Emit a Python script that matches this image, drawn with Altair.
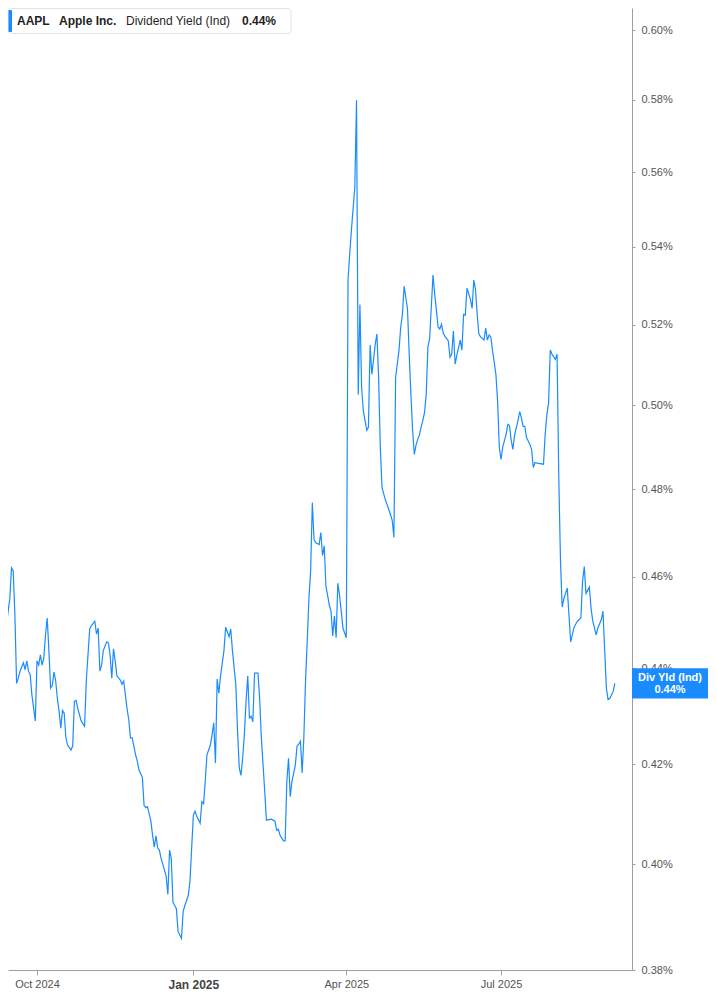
import altair as alt
import pandas as pd

# ---------------- data ----------------
dates = [
    "2024-09-09", "2024-09-10", "2024-09-11", "2024-09-12", "2024-09-13", "2024-09-15", "2024-09-16", "2024-09-17",
    "2024-09-18", "2024-09-19", "2024-09-20", "2024-09-21", "2024-09-23", "2024-09-24", "2024-09-25", "2024-09-26",
    "2024-09-27", "2024-09-28", "2024-09-30", "2024-10-01", "2024-10-02", "2024-10-03", "2024-10-04", "2024-10-05",
    "2024-10-06", "2024-10-07", "2024-10-08", "2024-10-09", "2024-10-10", "2024-10-11", "2024-10-12", "2024-10-13",
    "2024-10-14", "2024-10-15", "2024-10-16", "2024-10-17", "2024-10-18", "2024-10-19", "2024-10-21", "2024-10-22",
    "2024-10-23", "2024-10-24", "2024-10-25", "2024-10-27", "2024-10-29", "2024-10-30", "2024-11-01", "2024-11-02",
    "2024-11-04", "2024-11-05", "2024-11-06", "2024-11-07", "2024-11-08", "2024-11-09", "2024-11-11", "2024-11-12",
    "2024-11-13", "2024-11-14", "2024-11-15", "2024-11-16", "2024-11-17", "2024-11-19", "2024-11-20", "2024-11-21",
    "2024-11-22", "2024-11-23", "2024-11-24", "2024-11-25", "2024-11-26", "2024-11-28", "2024-11-29", "2024-11-30",
    "2024-12-02", "2024-12-03", "2024-12-04", "2024-12-05", "2024-12-07", "2024-12-08", "2024-12-09", "2024-12-10",
    "2024-12-11", "2024-12-12", "2024-12-13", "2024-12-15", "2024-12-16", "2024-12-17", "2024-12-18", "2024-12-19",
    "2024-12-20", "2024-12-21", "2024-12-22", "2024-12-23", "2024-12-24", "2024-12-25", "2024-12-26", "2024-12-27",
    "2024-12-29", "2024-12-30", "2024-12-31", "2025-01-01", "2025-01-02", "2025-01-03", "2025-01-05", "2025-01-06",
    "2025-01-07", "2025-01-08", "2025-01-09", "2025-01-11", "2025-01-12", "2025-01-13", "2025-01-14", "2025-01-15",
    "2025-01-16", "2025-01-17", "2025-01-19", "2025-01-20", "2025-01-22", "2025-01-23", "2025-01-24", "2025-01-26",
    "2025-01-27", "2025-01-28", "2025-01-29", "2025-01-30", "2025-01-31", "2025-02-01", "2025-02-02", "2025-02-03",
    "2025-02-04", "2025-02-05", "2025-02-06", "2025-02-08", "2025-02-09", "2025-02-10", "2025-02-12", "2025-02-13",
    "2025-02-16", "2025-02-18", "2025-02-19", "2025-02-20", "2025-02-21", "2025-02-23", "2025-02-24", "2025-02-25",
    "2025-02-26", "2025-02-27", "2025-02-28", "2025-03-02", "2025-03-03", "2025-03-04", "2025-03-05", "2025-03-06",
    "2025-03-07", "2025-03-08", "2025-03-09", "2025-03-10", "2025-03-11", "2025-03-12", "2025-03-13", "2025-03-14",
    "2025-03-16", "2025-03-17", "2025-03-18", "2025-03-19", "2025-03-20", "2025-03-21", "2025-03-22", "2025-03-23",
    "2025-03-24", "2025-03-25", "2025-03-26", "2025-03-27", "2025-03-28", "2025-03-29", "2025-03-30", "2025-04-01",
    "2025-04-02", "2025-04-03", "2025-04-04", "2025-04-06", "2025-04-07", "2025-04-08", "2025-04-09", "2025-04-10",
    "2025-04-11", "2025-04-13", "2025-04-14", "2025-04-15", "2025-04-16", "2025-04-17", "2025-04-18", "2025-04-19",
    "2025-04-20", "2025-04-21", "2025-04-22", "2025-04-24", "2025-04-25", "2025-04-26", "2025-04-28", "2025-04-29",
    "2025-04-30", "2025-05-02", "2025-05-03", "2025-05-04", "2025-05-05", "2025-05-06", "2025-05-07", "2025-05-08",
    "2025-05-09", "2025-05-10", "2025-05-11", "2025-05-12", "2025-05-13", "2025-05-14", "2025-05-15", "2025-05-16",
    "2025-05-17", "2025-05-18", "2025-05-19", "2025-05-20", "2025-05-22", "2025-05-23", "2025-05-24", "2025-05-25",
    "2025-05-26", "2025-05-27", "2025-05-28", "2025-05-29", "2025-05-31", "2025-06-01", "2025-06-02", "2025-06-03",
    "2025-06-04", "2025-06-05", "2025-06-07", "2025-06-08", "2025-06-09", "2025-06-10", "2025-06-11", "2025-06-13",
    "2025-06-14", "2025-06-15", "2025-06-16", "2025-06-17", "2025-06-18", "2025-06-19", "2025-06-21", "2025-06-22",
    "2025-06-23", "2025-06-24", "2025-06-25", "2025-06-26", "2025-06-28", "2025-06-29", "2025-06-30", "2025-07-01",
    "2025-07-02", "2025-07-04", "2025-07-05", "2025-07-06", "2025-07-07", "2025-07-08", "2025-07-09", "2025-07-11",
    "2025-07-12", "2025-07-13", "2025-07-14", "2025-07-15", "2025-07-16", "2025-07-18", "2025-07-19", "2025-07-20",
    "2025-07-21", "2025-07-23", "2025-07-26", "2025-07-27", "2025-07-28", "2025-07-29", "2025-07-30", "2025-07-31",
    "2025-08-02", "2025-08-03", "2025-08-04", "2025-08-05", "2025-08-06", "2025-08-07", "2025-08-09", "2025-08-10",
    "2025-08-11", "2025-08-13", "2025-08-14", "2025-08-15", "2025-08-17", "2025-08-18", "2025-08-19", "2025-08-20",
    "2025-08-21", "2025-08-22", "2025-08-23", "2025-08-24", "2025-08-26", "2025-08-27", "2025-08-29", "2025-08-30",
    "2025-09-01", "2025-09-02", "2025-09-03", "2025-09-05", "2025-09-06",
]

div_yield = [
    0.4526, 0.4539, 0.4492, 0.4487, 0.4494, 0.4552, 0.4620, 0.4614,
    0.4515, 0.4368, 0.4379, 0.4394, 0.4412, 0.4397, 0.4416, 0.4394,
    0.4386, 0.4343, 0.4289, 0.4416, 0.4407, 0.4429, 0.4407, 0.4422,
    0.4472, 0.4509, 0.4438, 0.4358, 0.4364, 0.4392, 0.4373, 0.4336,
    0.4309, 0.4274, 0.4311, 0.4305, 0.4254, 0.4239, 0.4229, 0.4237,
    0.4330, 0.4332, 0.4315, 0.4289, 0.4278, 0.4373, 0.4485, 0.4492,
    0.4502, 0.4474, 0.4487, 0.4394, 0.4407, 0.4438, 0.4457, 0.4455,
    0.4429, 0.4379, 0.4442, 0.4416, 0.4384, 0.4375, 0.4366, 0.4373,
    0.4343, 0.4315, 0.4291, 0.4254, 0.4254, 0.4219, 0.4206, 0.4188,
    0.4173, 0.4116, 0.4112, 0.4114, 0.4085, 0.4057, 0.4034, 0.4056,
    0.4032, 0.4028, 0.4012, 0.3989, 0.3977, 0.3942, 0.4028, 0.4012,
    0.3927, 0.3921, 0.3915, 0.3872, 0.3865, 0.3859, 0.3910, 0.3921,
    0.3940, 0.3967, 0.4032, 0.4097, 0.4105, 0.4095, 0.4081, 0.4124,
    0.4120, 0.4165, 0.4219, 0.4239, 0.4260, 0.4285, 0.4202, 0.4377,
    0.4347, 0.4384, 0.4438, 0.4489, 0.4468, 0.4485, 0.4438, 0.4364,
    0.4268, 0.4192, 0.4177, 0.4212, 0.4260, 0.4330, 0.4384, 0.4295,
    0.4299, 0.4287, 0.4390, 0.4390, 0.4336, 0.4254, 0.4144, 0.4087,
    0.4089, 0.4085, 0.4067, 0.4069, 0.4057, 0.4046, 0.4046, 0.4165,
    0.4212, 0.4134, 0.4165, 0.4198, 0.4237, 0.4241, 0.4247, 0.4182,
    0.4254, 0.4373, 0.4459, 0.4552, 0.4614, 0.4769, 0.4684, 0.4677,
    0.4673, 0.4700, 0.4648, 0.4670, 0.4579, 0.4559, 0.4537, 0.4524,
    0.4470, 0.4513, 0.4466, 0.4586, 0.4559, 0.4524, 0.4487, 0.4466,
    0.5314, 0.5382, 0.5445, 0.5559, 0.5799, 0.5026, 0.5251, 0.5043,
    0.4987, 0.4940, 0.4947, 0.5149, 0.5076, 0.5111, 0.5151, 0.5176,
    0.5068, 0.4899, 0.4804, 0.4775, 0.4764, 0.4753, 0.4728, 0.4689,
    0.5068, 0.5136, 0.5194, 0.5226, 0.5298, 0.5269, 0.5239, 0.5126,
    0.5026, 0.4940, 0.4882, 0.4904, 0.4918, 0.4928, 0.4947, 0.4963,
    0.4982, 0.5026, 0.5144, 0.5164, 0.5327, 0.5277, 0.5236, 0.5194,
    0.5189, 0.5201, 0.5179, 0.5171, 0.5159, 0.5118, 0.5126, 0.5184,
    0.5101, 0.5123, 0.5161, 0.5136, 0.5226, 0.5224, 0.5293, 0.5264,
    0.5241, 0.5314, 0.5290, 0.5226, 0.5176, 0.5169, 0.5161, 0.5191,
    0.5161, 0.5174, 0.5169, 0.5136, 0.5076, 0.5011, 0.4899, 0.4870,
    0.4899, 0.4930, 0.4954, 0.4951, 0.4916, 0.4894, 0.4928, 0.4963,
    0.4985, 0.4970, 0.4949, 0.4949, 0.4923, 0.4906, 0.4894, 0.4851,
    0.4863, 0.4861, 0.4859, 0.4930, 0.4978, 0.5006, 0.5136, 0.5126,
    0.5113, 0.5126, 0.4828, 0.4636, 0.4533, 0.4552, 0.4575, 0.4515,
    0.4457, 0.4489, 0.4496, 0.4502, 0.4509, 0.4591, 0.4623, 0.4563,
    0.4570, 0.4577, 0.4530, 0.4502, 0.4472, 0.4487, 0.4505, 0.4524,
    0.4358, 0.4334, 0.4336, 0.4351, 0.4368,
]

y_ticks = [0.38, 0.40, 0.42, 0.44, 0.46, 0.48, 0.50, 0.52, 0.54, 0.56, 0.58, 0.60]
header_texts = ["AAPL", "Apple Inc.", "Dividend Yield (Ind)"]
badge_title = "Div Yld (Ind)"

# ---------------- build ----------------
df = pd.DataFrame({"date": dates, "value": div_yield})
last = df.tail(1).copy()
dummy = pd.DataFrame({"k": [0]})

W, H = 624, 962
BADGE_W = 76
BLUE = "#1a8cff"
AXIS_GREY = "#9e9e9e"
FONT = "Liberation Sans"

x_scale = alt.Scale(
    type="utc",
    domain=[
        alt.DateTime(year=2024, month=9, date=13, hours=22, minutes=30, utc=True),
        alt.DateTime(year=2025, month=9, date=16, hours=2, utc=True),
    ],
    nice=False,
)
y_scale = alt.Scale(type="log", domain=[0.38, 0.6065], nice=False, zero=False)

is_jan = "utcmonth(datum.value) == 0"
x_axis = alt.Axis(
    title=None,
    grid=False,
    values=[
        alt.DateTime(year=2024, month=10, date=1, utc=True),
        alt.DateTime(year=2025, month=1, date=1, utc=True),
        alt.DateTime(year=2025, month=4, date=1, utc=True),
        alt.DateTime(year=2025, month=7, date=1, utc=True),
    ],
    labelExpr="utcFormat(datum.value, '%b %Y')",
    domainColor=AXIS_GREY,
    tickColor=AXIS_GREY,
    tickSize=5,
    labelFont=FONT,
    labelFontSize={"condition": {"test": is_jan, "value": 12}, "value": 11},
    labelFontWeight={"condition": {"test": is_jan, "value": "bold"}, "value": "normal"},
    labelColor={"condition": {"test": is_jan, "value": "#444444"}, "value": "#555555"},
    labelPadding={"condition": {"test": is_jan, "value": 4}, "value": 3},
    labelFlush=False,
    labelOverlap=False,
)

y_axis = alt.Axis(
    orient="right",
    title=None,
    grid=False,
    values=y_ticks,
    labelExpr="format(datum.value, '.2f') + '%'",
    domainColor=AXIS_GREY,
    tickColor=AXIS_GREY,
    tickSize=3,
    labelPadding=6,
    labelFont=FONT,
    labelFontSize=11,
    labelColor="#555555",
    labelOverlap=False,
    labelFlush=False,
)

line = alt.Chart(df).mark_line(color=BLUE, strokeWidth=1.2, clip=True).encode(
    x=alt.X("date:T", scale=x_scale, axis=x_axis),
    y=alt.Y("value:Q", scale=y_scale, axis=y_axis),
)

# value badge on the right axis: a filled rectangle symbol anchored at the axis line
badge = alt.Chart(last).mark_point(
    shape="M0,-0.395H2V0.395H0Z", size=BADGE_W * BADGE_W, filled=True,
    color=BLUE, opacity=1, strokeWidth=0,
).encode(
    x=alt.value(W),
    y=alt.Y("value:Q", scale=y_scale),
)
badge_t1 = alt.Chart(last).mark_text(
    color="white", fontWeight="bold", fontSize=11, font=FONT, align="center", dy=-5
).encode(
    x=alt.value(W + BADGE_W / 2),
    y=alt.Y("value:Q", scale=y_scale),
    text=alt.value(badge_title),
)
badge_t2 = alt.Chart(last).transform_calculate(
    lbl="format(datum.value, '.2f') + '%'"
).mark_text(
    color="white", fontWeight="bold", fontSize=11, font=FONT, align="center", dy=7
).encode(
    x=alt.value(W + BADGE_W / 2),
    y=alt.Y("value:Q", scale=y_scale),
    text="lbl:N",
)

# header box (top-left)
hdr_box = alt.Chart(dummy).mark_rect(
    fill="white", stroke="#e2e2e2", strokeWidth=1, cornerRadius=3
).encode(x=alt.value(0.5), x2=alt.value(283), y=alt.value(0.5), y2=alt.value(25.5))
hdr_bar = alt.Chart(dummy).mark_rect(fill=BLUE, cornerRadius=1).encode(
    x=alt.value(0.5), x2=alt.value(4), y=alt.value(2), y2=alt.value(24)
)


def htext(txt, xpos, weight):
    return alt.Chart(dummy).mark_text(
        text=txt, align="left", baseline="alphabetic", fontSize=12, font=FONT,
        fontWeight=weight, color="#1f1f1f",
    ).encode(x=alt.value(xpos), y=alt.value(17))


h1 = htext(header_texts[0], 9, "bold")
h2 = htext(header_texts[1], 51, "bold")
h3 = htext(header_texts[2], 118, "normal")
h4 = alt.Chart(last).transform_calculate(
    lbl="format(datum.value, '.2f') + '%'"
).mark_text(
    align="left", baseline="alphabetic", fontSize=12, font=FONT, fontWeight="bold", color="#1f1f1f"
).encode(x=alt.value(234), y=alt.value(17), text="lbl:N")

chart = alt.layer(
    line, badge, badge_t1, badge_t2, hdr_box, hdr_bar, h1, h2, h3, h4
).properties(
    width=W, height=H, padding={"left": 0, "top": 0, "right": 0, "bottom": 0},
    background="white",
).configure_view(stroke=None)

chart.save("out.html", embed_options={"renderer": "svg", "actions": False})
